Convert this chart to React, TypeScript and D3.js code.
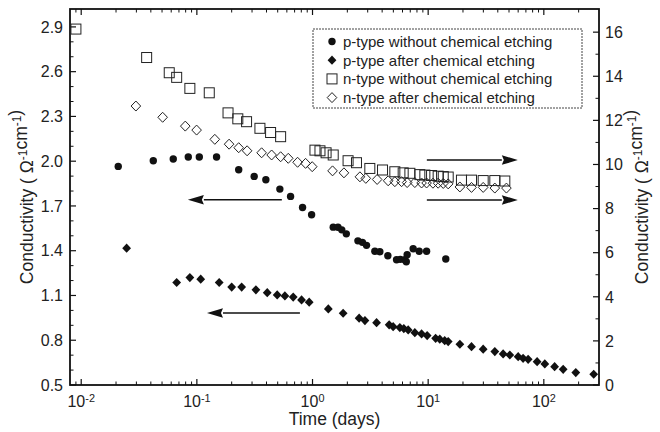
import * as d3 from "d3";

// time in days, conductivity
const pWithout: [number, number][] = [
  [0.0209, 1.965], [0.042, 2.003], [0.0625, 2.015], [0.0843, 2.028], [0.105, 2.028],
  [0.148, 2.028], [0.23, 1.943], [0.313, 1.898], [0.395, 1.876], [0.522, 1.813],
  [0.646, 1.764], [0.82, 1.69], [0.982, 1.641], [1.51, 1.558], [1.66, 1.557],
  [1.79, 1.54], [1.96, 1.513], [2.47, 1.466], [2.7, 1.456], [2.93, 1.436],
  [3.46, 1.396], [3.82, 1.393], [4.48, 1.366], [5.33, 1.339], [5.74, 1.342],
  [6.28, 1.339], [6.47, 1.326], [6.58, 1.373], [7.42, 1.413], [8.36, 1.396],
  [9.69, 1.396], [14.2, 1.344],
];

const pAfter: [number, number][] = [
  [0.0247, 1.417], [0.0669, 1.187], [0.087, 1.22], [0.108, 1.209], [0.156, 1.187],
  [0.2, 1.156], [0.244, 1.156], [0.324, 1.138], [0.406, 1.119], [0.495, 1.104],
  [0.577, 1.097], [0.681, 1.089], [0.804, 1.07], [0.936, 1.055], [1.37, 1.01],
  [1.84, 0.981], [2.53, 0.948], [2.84, 0.932], [3.58, 0.918], [4.6, 0.903],
  [4.98, 0.891], [5.69, 0.885], [6.16, 0.878], [6.72, 0.869], [7.67, 0.851],
  [8.77, 0.842], [9.8, 0.831], [11.6, 0.813], [12.6, 0.807], [13.9, 0.797],
  [14.9, 0.791], [18.8, 0.773], [23.7, 0.757], [29.9, 0.74], [37.7, 0.724],
  [44.5, 0.708], [50.8, 0.701], [60.0, 0.69], [66.2, 0.679], [73.2, 0.672],
  [87.5, 0.656], [102, 0.641], [124, 0.623], [147, 0.605], [189, 0.583], [270, 0.572],
];

const nWithout: [number, number][] = [
  [0.009, 16.14], [0.0368, 14.85], [0.0577, 14.16], [0.0669, 13.95], [0.087, 13.45],
  [0.128, 13.25], [0.186, 12.34], [0.226, 12.07], [0.269, 11.94], [0.351, 11.64],
  [0.434, 11.45], [0.53, 11.26], [1.05, 10.65], [1.16, 10.62], [1.31, 10.53],
  [1.51, 10.43], [2.03, 10.17], [2.4, 10.08], [3.13, 9.82], [4.03, 9.75],
  [5.15, 9.67], [6.08, 9.62], [6.95, 9.6], [8.47, 9.54], [9.36, 9.52],
  [10.7, 9.5], [12.2, 9.47], [13.5, 9.45], [14.9, 9.43], [19.4, 9.29],
  [23.7, 9.29], [29.9, 9.27], [37.7, 9.27], [46, 9.25],
];

const nAfter: [number, number][] = [
  [0.0297, 12.65], [0.0506, 12.14], [0.0794, 11.74], [0.0995, 11.56], [0.143, 11.14],
  [0.19, 10.92], [0.23, 10.76], [0.272, 10.62], [0.363, 10.53], [0.443, 10.43],
  [0.53, 10.35], [0.617, 10.28], [0.743, 10.1], [0.871, 10.05], [0.994, 9.9],
  [1.49, 9.71], [1.87, 9.62], [2.57, 9.44], [2.89, 9.37], [3.62, 9.32],
  [4.51, 9.26], [5.15, 9.22], [5.89, 9.22], [6.58, 9.18], [7.67, 9.18],
  [8.77, 9.16], [9.69, 9.16], [11.0, 9.15], [12.2, 9.15], [13.5, 9.14],
  [14.9, 9.12], [18.8, 8.98], [23.7, 8.96], [29.9, 8.96], [37.7, 8.93], [47.5, 8.93],
];

const legendLabels = [
  "p-type without chemical etching",
  "p-type after chemical etching",
  "n-type without chemical etching",
  "n-type after chemical etching",
];

const leftTicks = [0.5, 0.8, 1.1, 1.4, 1.7, 2.0, 2.3, 2.6, 2.9];
const rightTicks = [0, 2, 4, 6, 8, 10, 12, 14, 16];
const decades = [0.01, 0.1, 1, 10, 100];
const decadeExp = ["-2", "-1", "0", "1", "2"];

// arrows: [fromT, toT, value, axis]
const arrows: [number, number, number, "left" | "right"][] = [
  [0.543, 0.0836, 1.742, "left"],
  [0.778, 0.1223, 0.983, "left"],
  [9.74, 59.6, 10.2, "right"],
  [9.74, 59.6, 8.39, "right"],
];

const FONT = "'Liberation Sans', Arial, Helvetica, sans-serif";

function Marker({ kind, x, y }: { kind: number; x: number; y: number }) {
  if (kind === 0) return <circle cx={x} cy={y} r={3.7} fill="#111" />;
  if (kind === 1)
    return <path d={`M${x},${y - 4.6}L${x + 4.4},${y}L${x},${y + 4.6}L${x - 4.4},${y}Z`} fill="#111" />;
  if (kind === 2)
    return <rect x={x - 5} y={y - 5} width={10} height={10} fill="none" stroke="#222" strokeWidth={1} />;
  return (
    <path d={`M${x},${y - 5}L${x + 4.8},${y}L${x},${y + 5}L${x - 4.8},${y}Z`} fill="none" stroke="#222" strokeWidth={1} />
  );
}

export default function App() {
  const left = 70, right = 599, top = 9, bottom = 385;
  const x = d3.scaleLog().domain([0.008, 300]).range([left, right]);
  const yL = d3.scaleLinear().domain([0.5, 3.02]).range([bottom, top]);
  const yR = d3.scaleLinear().domain([0, 17.05]).range([bottom, top]);

  const minorX: number[] = [];
  [0.001, 0.01, 0.1, 1, 10, 100].forEach((d) => {
    for (let k = 2; k <= 9; k++) {
      const v = d * k;
      if (v > 0.008 && v < 300) minorX.push(v);
    }
  });
  const minorL = d3.range(0.6, 3.0, 0.1).filter((v) => !leftTicks.some((t) => Math.abs(t - v) < 1e-6));
  const minorR = d3.range(1, 17, 2);

  const series = [
    { data: pWithout, y: yL, kind: 0 },
    { data: pAfter, y: yL, kind: 1 },
    { data: nWithout, y: yR, kind: 2 },
    { data: nAfter, y: yR, kind: 3 },
  ];

  const sup = (s: string) => (
    <>
      <tspan dy="-0.5em" fontSize="0.68em">{s}</tspan>
      <tspan dy="0.5em"></tspan>
    </>
  );

  const axisLabel = (
    <>
      Conductivity ( Ω{sup("-1")}cm{sup("-1")})
    </>
  );

  return (
    <svg width={660} height={432} style={{ position: "absolute", left: 0, top: 0 }} fontFamily={FONT}>
      <rect width={660} height={432} fill="#fff" />
      {/* frame */}
      <rect x={left} y={top} width={right - left} height={bottom - top} fill="none" stroke="#111" strokeWidth={1.8} />

      {/* x ticks bottom and top */}
      {decades.map((d) => (
        <g key={"xd" + d}>
          <line x1={x(d)} x2={x(d)} y1={bottom} y2={bottom - 6} stroke="#111" strokeWidth={1.2} />
          <line x1={x(d)} x2={x(d)} y1={top} y2={top + 6} stroke="#111" strokeWidth={1.2} />
        </g>
      ))}
      {minorX.map((d) => (
        <g key={"xm" + d}>
          <line x1={x(d)} x2={x(d)} y1={bottom} y2={bottom - 3.5} stroke="#111" strokeWidth={1} />
          <line x1={x(d)} x2={x(d)} y1={top} y2={top + 3.5} stroke="#111" strokeWidth={1} />
        </g>
      ))}
      {decades.map((d, i) => (
        <text key={"xl" + d} x={x(d)} y={407} textAnchor="middle" fontSize={16} fill="#222">
          10{sup(decadeExp[i])}
        </text>
      ))}

      {/* left ticks */}
      {leftTicks.map((v) => (
        <g key={"l" + v}>
          <line x1={left} x2={left + 6} y1={yL(v)} y2={yL(v)} stroke="#111" strokeWidth={1.2} />
          <text x={63} y={yL(v)} dy="0.36em" textAnchor="end" fontSize={16} fill="#222">
            {v.toFixed(1)}
          </text>
        </g>
      ))}
      {minorL.map((v) => (
        <line key={"lm" + v} x1={left} x2={left + 3.5} y1={yL(v)} y2={yL(v)} stroke="#111" strokeWidth={1} />
      ))}

      {/* right ticks */}
      {rightTicks.map((v) => (
        <g key={"r" + v}>
          <line x1={right} x2={right - 6} y1={yR(v)} y2={yR(v)} stroke="#111" strokeWidth={1.2} />
          <text x={605} y={yR(v)} dy="0.36em" textAnchor="start" fontSize={16} fill="#222">
            {v}
          </text>
        </g>
      ))}
      {minorR.map((v) => (
        <line key={"rm" + v} x1={right} x2={right - 3.5} y1={yR(v)} y2={yR(v)} stroke="#111" strokeWidth={1} />
      ))}

      {/* axis titles */}
      <text x={(left + right) / 2} y={425} textAnchor="middle" fontSize={17.5} fill="#222">
        Time (days)
      </text>
      <text transform={`translate(33,${(top + bottom) / 2}) rotate(-90)`} textAnchor="middle" fontSize={17.5} fill="#222">
        {axisLabel}
      </text>
      <text transform={`translate(648,${(top + bottom) / 2}) rotate(-90)`} textAnchor="middle" fontSize={17.5} fill="#222">
        {axisLabel}
      </text>

      {/* data */}
      {series.map((s, si) =>
        s.data.map(([t, v], i) => <Marker key={si + "-" + i} kind={s.kind} x={x(t)} y={s.y(v)} />)
      )}

      {/* arrows */}
      {arrows.map(([from, to, v, ax], i) => {
        const yy = ax === "left" ? yL(v) : yR(v);
        const x0 = x(from), x1 = x(to);
        const dir = x1 > x0 ? 1 : -1;
        const hl = 16, hw = 4.8;
        return (
          <g key={"a" + i}>
            <line x1={x0} x2={x1 - dir * hl} y1={yy} y2={yy} stroke="#111" strokeWidth={1.4} />
            <path d={`M${x1},${yy}L${x1 - dir * hl},${yy - hw}L${x1 - dir * (hl - 2)},${yy}L${x1 - dir * hl},${yy + hw}Z`} fill="#111" />
          </g>
        );
      })}

      {/* legend */}
      <rect x={313} y={29} width={269} height={79} fill="#fff" stroke="#444" strokeWidth={1} strokeDasharray="2,1" />
      {legendLabels.map((l, i) => (
        <g key={l}>
          <Marker kind={i} x={332} y={41.5 + i * 18.7} />
          <text x={343} y={41.5 + i * 18.7} dy="0.36em" fontSize={15} fill="#222">
            {l}
          </text>
        </g>
      ))}
    </svg>
  );
}
